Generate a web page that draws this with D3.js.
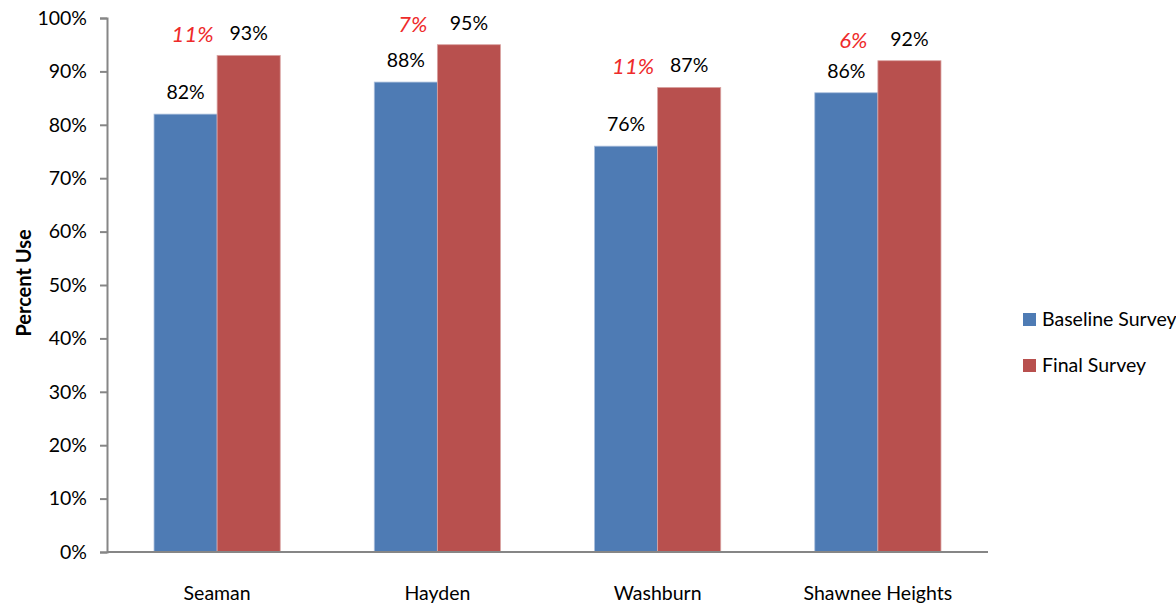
<!DOCTYPE html>
<html><head><meta charset="utf-8">
<script src="https://cdn.jsdelivr.net/npm/d3@7"></script>
<style>body{margin:0;background:#fff;} svg{display:block;font-family:Lato, "Open Sans", sans-serif;}</style>
</head><body>
<svg id="c" width="1176" height="608"></svg>
<script>
const categories = ["Seaman", "Hayden", "Washburn", "Shawnee Heights"];
const baseline = [0.82, 0.88, 0.76, 0.86];
const finalSurvey = [0.93, 0.95, 0.87, 0.92];
const changeLabels = ["11%", "7%", "11%", "6%"];
const yTicks = [0, 0.1, 0.2, 0.3, 0.4, 0.5, 0.6, 0.7, 0.8, 0.9, 1.0];
const seriesNames = ["Baseline Survey", "Final Survey"];
const colors = ["#4E7BB4", "#B8504E"];

const svg = d3.select("#c");
const m = {l: 107, r: 988, t: 18, b: 552};
const x = d3.scaleBand().domain(categories).range([m.l, m.r]).paddingInner(0.427).paddingOuter(0.2135);
const x1 = d3.scaleBand().domain(seriesNames).range([0, x.bandwidth()]);
const y = d3.scaleLinear().domain([0, 1]).range([m.b, m.t]);
const fmt = d3.format(".0%");
const FS = 19.5;

// axes
const yAxis = svg.append("g").attr("transform", `translate(${m.l},0)`)
  .call(d3.axisLeft(y).tickValues(yTicks).tickFormat(fmt).tickSize(7).tickPadding(13));
yAxis.select(".domain").attr("stroke", "#868686").attr("stroke-width", 2);
yAxis.selectAll(".tick line").attr("stroke", "#868686").attr("stroke-width", 2);
yAxis.selectAll(".tick text").attr("font-size", FS).attr("fill", "#000").attr("font-family", "Lato, sans-serif");

const data = categories.map((c, i) => ({c, vals: [baseline[i], finalSurvey[i]], diff: changeLabels[i]}));

const g = svg.selectAll(".grp").data(data).join("g").attr("transform", d => `translate(${x(d.c)},0)`);
g.selectAll("rect").data(d => d.vals.map((v, k) => ({v, k}))).join("rect")
  .attr("x", d => x1(seriesNames[d.k])).attr("width", x1.bandwidth())
  .attr("y", d => y(d.v)).attr("height", d => y(0) - y(d.v))
  .attr("fill", d => colors[d.k])
  .attr("stroke", d => d.k === 1 ? "#D9A3A2" : "#A9BEDC").attr("stroke-width", 0.8);
g.selectAll("text.val").data(d => d.vals.map((v, k) => ({v, k}))).join("text").attr("class", "val")
  .attr("x", d => x1(seriesNames[d.k]) + x1.bandwidth() / 2).attr("y", d => y(d.v) - 15)
  .attr("text-anchor", "middle").attr("font-size", FS).attr("fill", "#000").text(d => fmt(d.v));
g.append("text").attr("class", "diff")
  .attr("x", d => x1(seriesNames[0]) + x1.bandwidth() / 2 + 7).attr("y", d => y(d.vals[1]) - 13)
  .attr("text-anchor", "middle").attr("font-size", 22).attr("font-style", "italic").attr("fill", "#EE2B2B")
  .text(d => d.diff);

// x axis line
svg.append("line").attr("x1", m.l).attr("x2", m.r).attr("y1", y(0)).attr("y2", y(0))
  .attr("stroke", "#868686").attr("stroke-width", 2);
svg.selectAll("text.cat").data(categories).join("text").attr("class", "cat")
  .attr("x", d => x(d) + x.bandwidth() / 2).attr("y", 600).attr("text-anchor", "middle")
  .attr("font-size", FS).attr("fill", "#000").text(d => d);

// y title
svg.append("text").attr("transform", "translate(31,283) rotate(-90)").attr("text-anchor", "middle")
  .attr("font-size", 20).attr("font-weight", "bold").attr("fill", "#000").text("Percent Use");

// legend
const lg = svg.selectAll(".lg").data(seriesNames).join("g").attr("transform", (d, i) => `translate(1023,${313 + i * 46})`);
lg.append("rect").attr("width", 13).attr("height", 13).attr("fill", (d, i) => colors[i]);
lg.append("text").attr("x", 19).attr("y", 13).attr("font-size", FS).attr("fill", "#000").text(d => d);
</script>
</body></html>
